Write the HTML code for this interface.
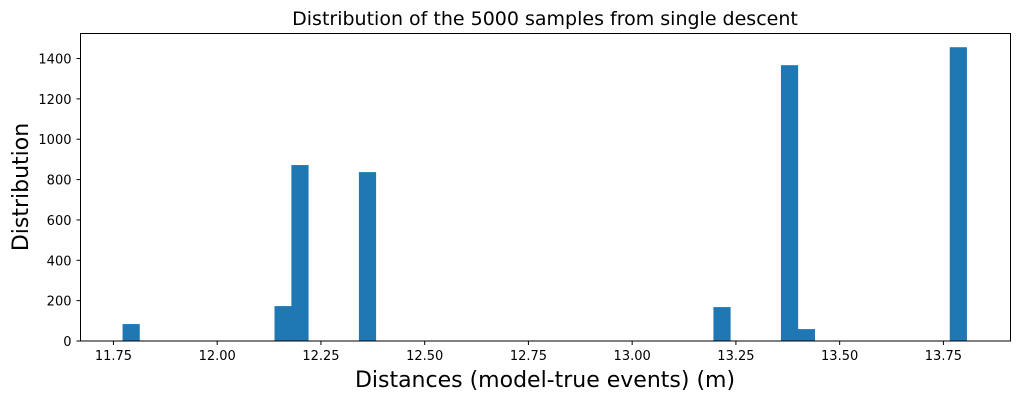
<!DOCTYPE html>
<html><head><meta charset="utf-8"><style>
html,body{margin:0;padding:0;background:#fff;}
svg{display:block;font-family:"DejaVu Sans","Liberation Sans",sans-serif;}
</style></head><body>
<svg id="chart" width="1020" height="400" viewBox="0 0 1020 400">
<text x="545" y="25" font-size="19" text-anchor="middle" fill="#000">Distribution of the 5000 samples from single descent</text>
<g id="bars"></g>
<g id="xticks"></g>
<g id="yticks"></g>
<rect x="80.5" y="33.5" width="930" height="307.5" fill="none" stroke="#000" stroke-width="1"/>
<text x="545" y="387" font-size="22" text-anchor="middle" fill="#000">Distances (model-true events) (m)</text>
<text transform="translate(28,187) rotate(-90)" font-size="22" text-anchor="middle" fill="#000">Distribution</text>
</svg>
<script>
const binStart = 11.772;
const binEnd = 13.806;
const binCount = 50;
const binIndices = [0, 9, 10, 14, 35, 39, 40, 49];
const binCounts = [84, 173, 872, 837, 168, 1367, 59, 1456];
const xTicks = [11.75, 12.00, 12.25, 12.50, 12.75, 13.00, 13.25, 13.50, 13.75];
const xTickLabels = ["11.75","12.00","12.25","12.50","12.75","13.00","13.25","13.50","13.75"];
const yTicks = [0, 200, 400, 600, 800, 1000, 1200, 1400];
const yTickLabels = ["0","200","400","600","800","1000","1200","1400"];

const NS = "http://www.w3.org/2000/svg";
const xMin = 11.6706, xMax = 13.9117, yMax = 1524;
const L = 80.5, R = 1010.5, T = 33.5, B = 341;
const xs = v => L + (v - xMin) / (xMax - xMin) * (R - L);
const ys = v => B - v / yMax * (B - T);
const bw = (binEnd - binStart) / binCount;

const gb = document.getElementById('bars');
binIndices.forEach((bi, k) => {
  const x0 = xs(binStart + bi * bw), x1 = xs(binStart + (bi + 1) * bw);
  const r = document.createElementNS(NS, 'rect');
  r.setAttribute('x', x0); r.setAttribute('width', x1 - x0 + 0.3);
  r.setAttribute('y', ys(binCounts[k])); r.setAttribute('height', B - ys(binCounts[k]));
  r.setAttribute('fill', '#1f77b4');
  
  
  gb.appendChild(r);
});
const gx = document.getElementById('xticks');
xTicks.forEach((v, i) => {
  const x = xs(v);
  const l = document.createElementNS(NS, 'line');
  l.setAttribute('x1', x); l.setAttribute('x2', x); l.setAttribute('y1', B); l.setAttribute('y2', B + 4);
  l.setAttribute('stroke', '#000');
  
  
  gx.appendChild(l);
  const t = document.createElementNS(NS, 'text');
  t.setAttribute('x', x); t.setAttribute('y', B + 19); t.setAttribute('font-size', '13');
  t.setAttribute('text-anchor', 'middle'); t.textContent = xTickLabels[i];
  
  
  gx.appendChild(t);
});
const gy = document.getElementById('yticks');
yTicks.forEach((v, i) => {
  const y = ys(v);
  const l = document.createElementNS(NS, 'line');
  l.setAttribute('x1', L - 4); l.setAttribute('x2', L); l.setAttribute('y1', y); l.setAttribute('y2', y);
  l.setAttribute('stroke', '#000');
  
  
  gy.appendChild(l);
  const t = document.createElementNS(NS, 'text');
  t.setAttribute('x', L - 9); t.setAttribute('y', y + 5); t.setAttribute('font-size', '13');
  t.setAttribute('text-anchor', 'end'); t.textContent = yTickLabels[i];
  
  
  gy.appendChild(t);
});
</script>
</body></html>
